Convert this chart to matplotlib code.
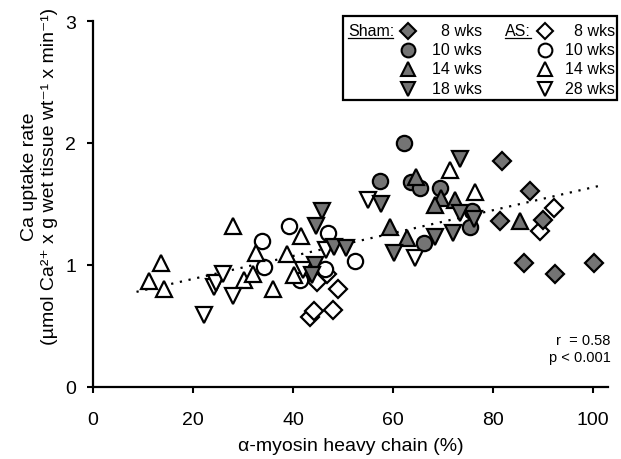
import matplotlib
matplotlib.use("Agg")
import matplotlib.pyplot as plt
from matplotlib.patches import Rectangle

plt.rcParams['font.family'] = ['Liberation Sans', 'DejaVu Sans']
plt.rcParams['mathtext.default'] = 'regular'

# alpha-MHC (%) and Ca uptake rate for each group
sham8_x = [81.7, 81.4, 87.3, 89.9, 86.1, 92.4, 100.2]
sham8_y = [1.85, 1.36, 1.61, 1.37, 1.02, 0.93, 1.02]
sham10_x = [62.1, 57.4, 63.6, 65.3, 66.1, 69.3, 75.7, 75.4]
sham10_y = [2.00, 1.69, 1.68, 1.63, 1.18, 1.63, 1.44, 1.31]
sham14_x = [59.3, 62.7, 64.6, 69.6, 68.4, 72.4, 85.4]
sham14_y = [1.31, 1.22, 1.72, 1.55, 1.49, 1.53, 1.36]
sham18_x = [45.7, 44.5, 48.1, 44.4, 43.8, 50.6, 57.6, 60.1, 68.4, 71.9, 73.3, 73.4, 76.1]
sham18_y = [1.44, 1.32, 1.15, 1.00, 0.92, 1.14, 1.50, 1.10, 1.23, 1.26, 1.87, 1.43, 1.38]

as8_x = [44.7, 48.9, 43.4, 44.1, 47.9, 46.7, 92.1, 89.4]
as8_y = [0.86, 0.80, 0.57, 0.62, 0.63, 0.93, 1.47, 1.28]
as10_x = [33.8, 34.1, 39.1, 41.4, 46.9, 46.4, 52.4]
as10_y = [1.20, 0.98, 1.32, 0.88, 1.26, 0.97, 1.03]
as14_x = [11.1, 13.6, 14.2, 27.9, 30.1, 32.0, 32.5, 36.0, 38.8, 41.6, 40.1, 71.4, 76.3]
as14_y = [0.87, 1.02, 0.80, 1.32, 0.88, 0.93, 1.10, 0.80, 1.09, 1.24, 0.92, 1.78, 1.60]
as28_x = [22.1, 24.2, 24.6, 25.9, 28.0, 42.0, 46.5, 54.9, 64.3]
as28_y = [0.59, 0.82, 0.85, 0.93, 0.75, 0.96, 1.12, 1.53, 1.06]

# regression line end points
trend_x = [8.7, 101.4]
trend_y = [0.78, 1.65]

groups = [
    ("8 wks", sham8_x, sham8_y, as8_x, as8_y, "D", 8.8),
    ("10 wks", sham10_x, sham10_y, as10_x, as10_y, "o", 11),
    ("14 wks", sham14_x, sham14_y, as14_x, as14_y, "^", 11.5),
    ("18 wks", sham18_x, sham18_y, as28_x, as28_y, "v", 11.5),
]
as_labels = ["8 wks", "10 wks", "14 wks", "28 wks"]
sham_color = "#747474"

fig = plt.figure(figsize=(6.21, 4.60), dpi=100)
ax = fig.add_axes([93 / 621, 1 - 388 / 460, 515 / 621, 366 / 460])

ax.plot(trend_x, trend_y, color="black", lw=1.6, linestyle=(0, (1, 3)), zorder=1)

for label, sx, sy, ax_, ay, m, ms in groups:
    ax.plot(ax_, ay, linestyle="none", marker=m, ms=ms, mfc="white", mec="black", mew=1.6, zorder=2)
    ax.plot(sx, sy, linestyle="none", marker=m, ms=ms, mfc=sham_color, mec="black", mew=1.6, zorder=3)

ax.set_xlim(0, 103)
ax.set_ylim(0, 3)
ax.set_xticks([0, 20, 40, 60, 80, 100])
ax.set_yticks([0, 1, 2, 3])
ax.spines['top'].set_visible(False)
ax.spines['right'].set_visible(False)
for s in ['left', 'bottom']:
    ax.spines[s].set_linewidth(1.6)
ax.tick_params(axis='x', length=4, width=1.5, pad=13, labelsize=14)
ax.tick_params(axis='y', length=4, width=1.5, pad=8, labelsize=14)

ax.set_xlabel("\u03b1-myosin heavy chain (%)", fontsize=14, labelpad=7)
ax.set_ylabel("Ca uptake rate\n(\u00b5mol Ca\u00b2\u207a x g wet tissue wt\u207b\u00b9 x min\u207b\u00b9)",
              fontsize=14, linespacing=1.2)
ax.yaxis.set_label_coords(-0.068, 0.578)

ax.text(1.005, 0.105, "r  = 0.58\np < 0.001", transform=ax.transAxes,
        ha="right", va="center", fontsize=10.5, linespacing=1.2)


# hand-made legend box in pixel-like positions
def axx(px):
    return (px - 93) / 515


def axy(py):
    return (388 - py) / 366


ax.add_patch(Rectangle((axx(343), axy(101)), axx(617) - axx(343), axy(17) - axy(101),
                       transform=ax.transAxes, fill=False, lw=1.6, ec="black", clip_on=False, zorder=5))
rows = [31.5, 50.5, 70, 89.5]
ax.text(axx(348), axy(rows[0]), "Sham:", transform=ax.transAxes, ha="left", va="center", fontsize=11.5)
ax.plot([axx(348), axx(393)], [axy(38.5), axy(38.5)], transform=ax.transAxes, color="black", lw=0.9, clip_on=False)
ax.text(axx(505), axy(rows[0]), "AS:", transform=ax.transAxes, ha="left", va="center", fontsize=11.5)
ax.plot([axx(505), axx(531)], [axy(38.5), axy(38.5)], transform=ax.transAxes, color="black", lw=0.9, clip_on=False)
for i, (label, sx, sy, ax_, ay, m, ms) in enumerate(groups):
    ry = axy(rows[i])
    ax.plot([axx(408)], [ry], transform=ax.transAxes, marker=m, ms=ms * 0.9, mfc=sham_color,
            mec="black", mew=1.5, clip_on=False, zorder=6)
    ax.text(axx(482), ry, label, transform=ax.transAxes, ha="right", va="center", fontsize=11.5)
    ax.plot([axx(545)], [ry], transform=ax.transAxes, marker=m, ms=ms * 0.9, mfc="white",
            mec="black", mew=1.5, clip_on=False, zorder=6)
    ax.text(axx(615), ry, as_labels[i], transform=ax.transAxes, ha="right", va="center", fontsize=11.5)

fig.savefig("out.png", dpi=100)
